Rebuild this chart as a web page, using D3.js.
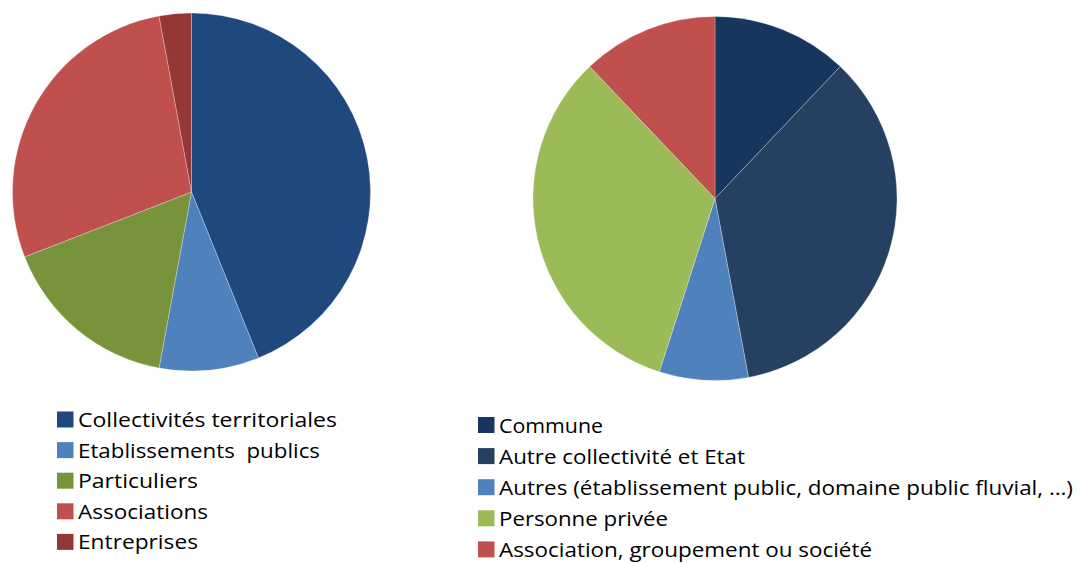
<!DOCTYPE html>
<html>
<head>
<meta charset="utf-8">
<script src="https://cdn.jsdelivr.net/npm/d3@7"></script>
<style>
  html, body { margin: 0; padding: 0; background: #fff; }
  svg { display: block; }
  text { font-family: "Open Sans", "Lato", sans-serif; fill: #000; }
</style>
</head>
<body>
<svg id="chart" width="1080" height="563"></svg>
<script>
// ---- Data (percentages) ----
const leftCategories = ["Collectivités territoriales", "Etablissements  publics", "Particuliers", "Associations", "Entreprises"];
const leftValues = [43.9, 9.0, 16.2, 28.0, 2.9];
const leftColors = ["#1F497D", "#4F81BD", "#77933C", "#C0504D", "#953735"];

const rightCategories = ["Commune", "Autre collectivité et Etat", "Autres (établissement public, domaine public fluvial, …)", "Personne privée", "Association, groupement ou société"];
const rightValues = [12.1, 35.0, 7.9, 33.0, 12.1];
const rightColors = ["#17365D", "#254061", "#4F81BD", "#9BBB59", "#C0504D"];

// Legend text widths as seen in the picture (layout)
const leftLegendWidths = [259, 242, 120, 130, 120];
const rightLegendWidths = [104, 246, 574, 169, 373];

const svg = d3.select("#chart");

function drawPie(values, colors, cx, cy, r) {
  const pie = d3.pie().sort(null).value(d => d);
  const arc = d3.arc().innerRadius(0).outerRadius(r);
  const g = svg.append("g").attr("transform", `translate(${cx},${cy})`);
  g.selectAll("path")
    .data(pie(values))
    .join("path")
    .attr("d", arc)
    .attr("fill", (d, i) => colors[i])
    .attr("stroke", "rgba(255,255,255,0.45)")
    .attr("stroke-width", 0.6);
}

function drawLegend(cats, colors, widths, x0, y0, step, fs) {
  const g = svg.append("g");
  const rows = g.selectAll("g.row")
    .data(cats)
    .join("g")
    .attr("class", "row")
    .attr("transform", (d, i) => `translate(${x0},${y0 + i * step})`);
  rows.append("rect")
    .attr("x", 0)
    .attr("y", -15.5)
    .attr("width", 16.5)
    .attr("height", 16)
    .attr("fill", (d, i) => colors[i]);
  rows.append("text")
    .attr("x", 21)
    .attr("y", 0)
    .attr("font-size", fs)
    .attr("textLength", (d, i) => widths[i])
    .attr("lengthAdjust", "spacingAndGlyphs")
    .style("white-space", "pre")
    .attr("xml:space", "preserve")
    .text(d => d);
}

drawPie(leftValues, leftColors, 191.5, 192, 179);
drawPie(rightValues, rightColors, 715, 198.5, 182);

drawLegend(leftCategories, leftColors, leftLegendWidths, 57, 427, 30.6, 20.5);
drawLegend(rightCategories, rightColors, rightLegendWidths, 478, 432.5, 31.1, 20);
</script>
</body>
</html>
